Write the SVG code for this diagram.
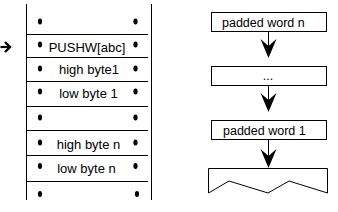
<svg xmlns="http://www.w3.org/2000/svg" width="338" height="212" viewBox="0 0 338 212">
<defs>
<style>
.ln{stroke:#000;stroke-width:1;fill:none}
.t{font-family:"Liberation Sans",Arial,sans-serif;font-size:13px;fill:#000}
.tr{font-family:"Liberation Sans",Arial,sans-serif;font-size:12.5px;fill:#000}
.box{fill:#fff;stroke:#000;stroke-width:1}
.dot{fill:#000}
</style>
<path id="ah" d="M-8,0 L0,7 L8,0 L0,19 Z" fill="#000"/>
<ellipse id="d" rx="2.1" ry="2.9" class="dot"/>
</defs>
<g id="stack">
<line class="ln" x1="26.5" y1="4" x2="26.5" y2="200"/>
<line class="ln" x1="151.5" y1="4" x2="151.5" y2="200"/>
<line class="ln" x1="26" y1="34.5" x2="148" y2="34.5"/>
<line class="ln" x1="26" y1="57.5" x2="148" y2="57.5"/>
<line class="ln" x1="26" y1="81.5" x2="148" y2="81.5"/>
<line class="ln" x1="26" y1="106.5" x2="148" y2="106.5"/>
<line class="ln" x1="26" y1="130.5" x2="148" y2="130.5"/>
<line class="ln" x1="26" y1="155.5" x2="148" y2="155.5"/>
<line class="ln" x1="26" y1="181.5" x2="148" y2="181.5"/>
<use href="#d" x="40" y="21.5"/><use href="#d" x="135.5" y="21.5"/>
<use href="#d" x="40" y="44.5"/><use href="#d" x="135.5" y="44.5"/>
<use href="#d" x="40" y="68.5"/><use href="#d" x="135.5" y="68.5"/>
<use href="#d" x="40" y="91.5"/><use href="#d" x="135.5" y="91.5"/>
<use href="#d" x="40" y="117.5"/><use href="#d" x="135.5" y="117.5"/>
<use href="#d" x="40" y="142.5"/><use href="#d" x="135.5" y="142.5"/>
<use href="#d" x="40" y="166"/><use href="#d" x="135.5" y="166"/>
<use href="#d" x="40" y="194"/><use href="#d" x="137" y="194"/>
<text class="t" x="87" y="52" text-anchor="middle">PUSHW[abc]</text>
<text class="t" x="89" y="74" text-anchor="middle">high byte1</text>
<text class="t" x="88.5" y="98" text-anchor="middle">low byte 1</text>
<text class="t" x="88.5" y="148.5" text-anchor="middle">high byte n</text>
<text class="t" x="86.5" y="173" text-anchor="middle">low byte n</text>
</g>
<g id="pointer">
<line x1="0.5" y1="47" x2="10" y2="47" stroke="#000" stroke-width="2.2"/>
<path d="M5,42 L10,47 L5,52" stroke="#000" stroke-width="2.4" fill="none"/>
</g>
<g id="word-n">
<rect class="box" x="211.5" y="12.5" width="115" height="19"/>
<text class="tr" x="222" y="27">padded word n</text>
</g>
<g id="ellipsis">
<rect class="box" x="211.5" y="66.5" width="115" height="19"/>
<text class="tr" x="268" y="80" text-anchor="middle" fill="#555">...</text>
</g>
<g id="word-1">
<rect class="box" x="211.5" y="120.5" width="115" height="19"/>
<text class="tr" x="223" y="135">padded word 1</text>
</g>
<g id="base">
<path class="ln" d="M208.5,193 V168.5 H327.5 V193 L289,181 L268,193 L229,181 Z"/>
</g>
<g id="connectors">
<line class="ln" x1="268.5" y1="32" x2="268.5" y2="50"/>
<use href="#ah" x="268.5" y="39"/>
<line class="ln" x1="268.5" y1="86" x2="268.5" y2="104"/>
<use href="#ah" x="268.5" y="93"/>
<line class="ln" x1="268.5" y1="140" x2="268.5" y2="160"/>
<use href="#ah" x="268.5" y="149"/>
</g>
</svg>
